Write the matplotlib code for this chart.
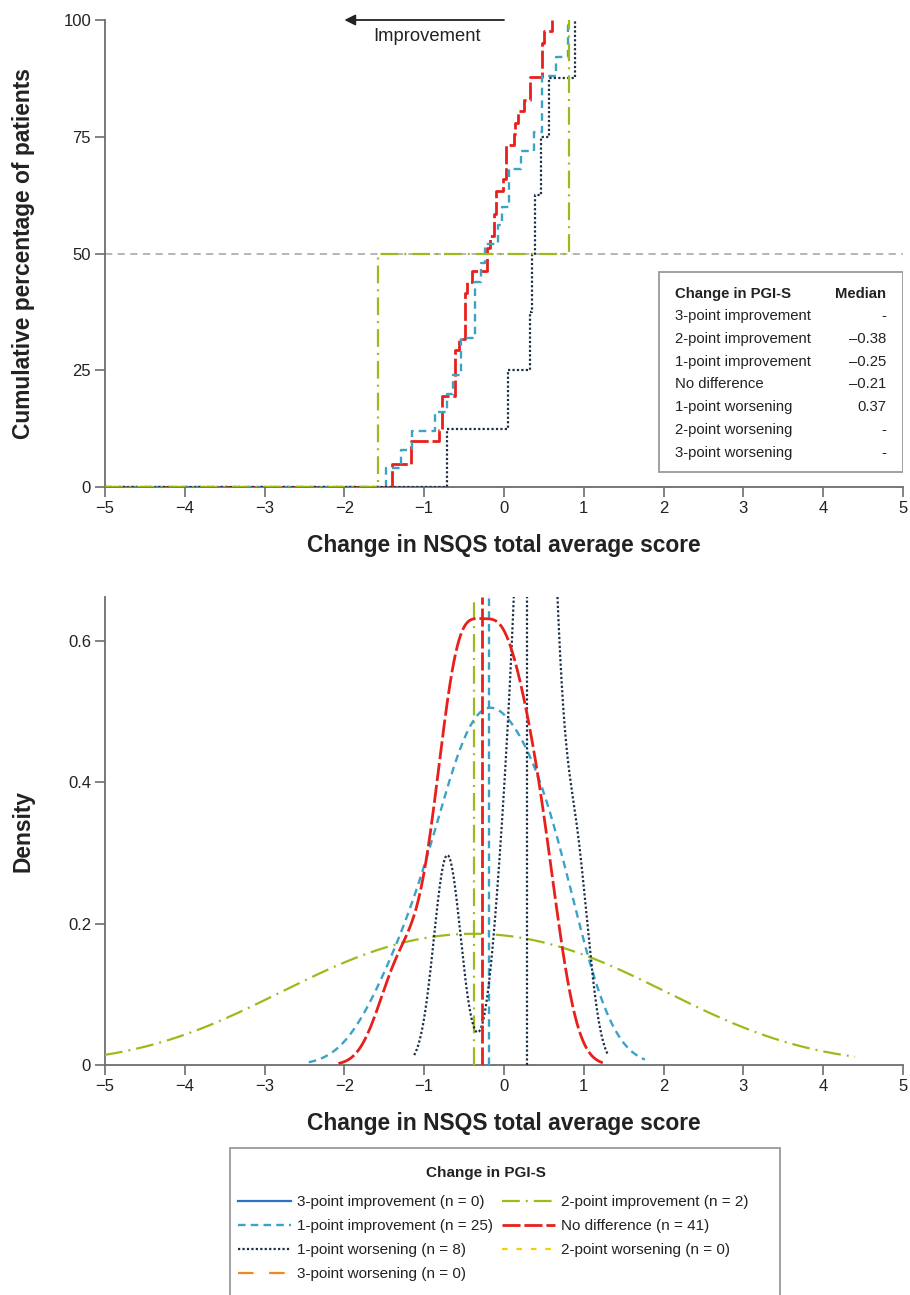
import numpy as np
import matplotlib
matplotlib.use("Agg")
import matplotlib.pyplot as plt
from matplotlib.patches import Rectangle

plt.rcParams['font.family'] = ['Liberation Sans', 'DejaVu Sans']

# ---------------- data ----------------
groups = ["3-point improvement", "2-point improvement", "1-point improvement",
          "No difference", "1-point worsening", "2-point worsening", "3-point worsening"]

# change in NSQS total average score, per PGI-S group
vals_3imp = []
vals_2imp = [-1.58, 0.82]
vals_1imp = [-1.48, -1.29, -1.15, -0.87, -0.71, -0.64, -0.54, -0.54, -0.36, -0.36,
             -0.36, -0.29, -0.24, -0.08, -0.02, 0.06, 0.06, 0.21, 0.37, 0.47,
             0.47, 0.47, 0.65, 0.80, 0.80]
vals_nodiff = [-1.40, -1.40, -1.17, -1.17, -0.82, -0.78, -0.78, -0.78, -0.61, -0.61,
               -0.61, -0.61, -0.56, -0.49, -0.49, -0.49, -0.49, -0.46, -0.40, -0.21,
               -0.21, -0.18, -0.13, -0.13, -0.10, -0.10, -0.01, 0.02, 0.02, 0.02,
               0.12, 0.14, 0.18, 0.25, 0.33, 0.33, 0.47, 0.47, 0.47, 0.50, 0.60]
vals_1wor = [-0.71, 0.05, 0.33, 0.35, 0.39, 0.46, 0.56, 0.89]
vals_2wor = []
vals_3wor = []

table_medians = ["-", "\u20130.38", "\u20130.25", "\u20130.21", "0.37", "-", "-"]

# kernel density settings (bandwidth, evaluation extension in bandwidths)
kde_bw = {"2-point improvement": 1.65, "1-point improvement": 0.42,
          "No difference": 0.25, "1-point worsening": 0.168}
kde_cut = {"2-point improvement": 2.17, "1-point improvement": 2.3,
           "No difference": 2.7, "1-point worsening": 2.47}

xticks = [-5, -4, -3, -2, -1, 0, 1, 2, 3, 4, 5]
yticks_top = [0, 25, 50, 75, 100]
yticks_bot = [0, 0.2, 0.4, 0.6]

data = {
    "3-point improvement": vals_3imp,
    "2-point improvement": vals_2imp,
    "1-point improvement": vals_1imp,
    "No difference": vals_nodiff,
    "1-point worsening": vals_1wor,
    "2-point worsening": vals_2wor,
    "3-point worsening": vals_3wor,
}

# ---------------- styles ----------------
styles = {
    "3-point improvement": dict(color="#2a72c0", ls="-", lw=1.6),
    "2-point improvement": dict(color="#9bbb1d", ls=(0, (8, 2.7, 0.9, 2.7)), lw=1.6),
    "1-point improvement": dict(color="#3aa3c6", ls=(0, (3.2, 2.2)), lw=1.7),
    "No difference": dict(color="#e8201c", ls=(0, (6.5, 1.4)), lw=2.0),
    "1-point worsening": dict(color="#1d2f47", ls=(0, (1, 1)), lw=1.6),
    "2-point worsening": dict(color="#f5d000", ls=(0, (2.5, 4)), lw=1.6),
    "3-point worsening": dict(color="#f0891a", ls=(0, (7, 7)), lw=1.6),
}

spine_col = "#6d6d6d"
txt_col = "#222222"
label_fs = 16.4

fig = plt.figure(figsize=(9.10, 12.95), dpi=100)
ax1 = fig.add_axes([105/910, 1-487/1295, 798/910, 467/1295])
ax2 = fig.add_axes([105/910, 1-1065/1295, 798/910, 468/1295])

def style_axes(ax):
    for s in ["top", "right"]:
        ax.spines[s].set_visible(False)
    for s in ["left", "bottom"]:
        ax.spines[s].set_color(spine_col)
        ax.spines[s].set_linewidth(1.3)
    ax.tick_params(axis="both", direction="out", length=7, width=1.2,
                   color=spine_col, labelsize=12, labelcolor=txt_col, pad=3)

# ---------------- top: cumulative ----------------
ax1.axhline(50, color="#b0b0b0", lw=1.3, ls=(0, (4, 3)), zorder=1)
order_top = ["No difference", "1-point improvement", "1-point worsening", "2-point improvement"]
for g in order_top:
    v = np.sort(np.array(data[g]))
    n = len(v)
    xs = np.concatenate([[-5], v])
    ys = np.concatenate([[0], 100 * np.arange(1, n + 1) / n])
    st = styles[g]
    ax1.step(xs, ys, where="post", color=st["color"], ls=st["ls"], lw=st["lw"], zorder=3)

ax1.set_xlim(-5, 5)
ax1.set_ylim(0, 100)
ax1.set_xticks(xticks)
ax1.set_yticks(yticks_top)
style_axes(ax1)
ax1.set_xlabel("Change in NSQS total average score", fontsize=label_fs, fontweight="bold",
               labelpad=13, color=txt_col)
ax1.set_ylabel("Cumulative percentage of patients", fontsize=label_fs, fontweight="bold",
               color=txt_col)
ax1.yaxis.set_label_coords((35-105)/798, 0.5)

ax1.annotate("", xy=(-2.0, 100), xytext=(0, 100), xycoords="data",
             arrowprops=dict(arrowstyle="-|>", color=txt_col, lw=1.3,
                             mutation_scale=16, shrinkA=0, shrinkB=0),
             annotation_clip=False)
ax1.text(-0.97, 96.5, "Improvement", ha="center", va="center", fontsize=13.2, color=txt_col)

# inset table
bx0 = (659-105)/798
by0 = (487-472)/467
ax1.add_patch(Rectangle((bx0, by0), 1-bx0, (472-272)/467, transform=ax1.transAxes,
                        fill=True, facecolor="white", edgecolor="#9a9a9a", lw=1.3, zorder=5))
def ty(py):
    return (487-py)/467
lx = (675-105)/798
rx = (886-105)/798
ax1.text(lx, ty(294), "Change in PGI-S", transform=ax1.transAxes, fontsize=10.7,
         fontweight="bold", va="center", ha="left", zorder=6, color=txt_col)
ax1.text(rx, ty(294), "Median", transform=ax1.transAxes, fontsize=10.7,
         fontweight="bold", va="center", ha="right", zorder=6, color=txt_col)
for i, (g, m) in enumerate(zip(groups, table_medians)):
    yy = ty(316 + i * 22.8)
    ax1.text(lx, yy, g, transform=ax1.transAxes, fontsize=10.7, va="center", ha="left",
             zorder=6, color=txt_col)
    ax1.text(rx, yy, m, transform=ax1.transAxes, fontsize=10.7, va="center", ha="right",
             zorder=6, color=txt_col)

# ---------------- bottom: density ----------------
def kde(v, h, grid):
    v = np.asarray(v)[:, None]
    z = (grid[None, :] - v) / h
    return np.exp(-0.5 * z**2).sum(axis=0) / (len(v) * h * np.sqrt(2 * np.pi))

order_bot = ["2-point improvement", "1-point improvement", "1-point worsening", "No difference"]
for g in order_bot:
    v = np.array(data[g])
    h = kde_bw[g]
    c = kde_cut[g]
    grid = np.linspace(max(v.min() - c * h, -5), v.max() + c * h, 600)
    st = styles[g]
    ax2.plot(grid, kde(v, h, grid), color=st["color"], ls=st["ls"], lw=st["lw"], zorder=3)
    ax2.axvline(v.mean(), color=st["color"], ls=st["ls"], lw=st["lw"], zorder=3)

handles = {}
for g in groups:
    st = styles[g]
    ln, = ax2.plot([], [], color=st["color"], ls=st["ls"], lw=st["lw"])
    handles[g] = ln

ax2.set_xlim(-5, 5)
ax2.set_ylim(0, 0.662)
ax2.set_xticks(xticks)
ax2.set_yticks(yticks_bot)
ax2.set_yticklabels(["0", "0.2", "0.4", "0.6"])
style_axes(ax2)
ax2.set_xlabel("Change in NSQS total average score", fontsize=label_fs, fontweight="bold",
               labelpad=13, color=txt_col)
ax2.set_ylabel("Density", fontsize=label_fs, fontweight="bold", color=txt_col)
ax2.yaxis.set_label_coords((35-105)/798, 0.5)

counts = {g: len(data[g]) for g in groups}
leg_order = ["3-point improvement", "1-point improvement", "1-point worsening", "3-point worsening",
             "2-point improvement", "No difference", "2-point worsening"]
leg = fig.legend([handles[g] for g in leg_order],
                 [f"{g} (n = {counts[g]})" for g in leg_order],
                 loc="upper left", bbox_to_anchor=(238/910, 1-1195/1295), ncol=2,
                 fontsize=11, frameon=False, handlelength=3.5, handletextpad=0.35,
                 columnspacing=0.6, labelspacing=0.66, borderpad=0.0, borderaxespad=0.0)
for t in leg.get_texts():
    t.set_color(txt_col)
fig.text(486/910, 1-1173/1295, "Change in PGI-S", ha="center", va="center",
         fontsize=11, fontweight="bold", color=txt_col)
fig.patches.append(Rectangle((230/910, -0.01), 550/910, 0.01 + 1 - 1148/1295,
                             transform=fig.transFigure, fill=False,
                             edgecolor="#9a9a9a", lw=1.3))

fig.savefig("out.png", dpi=100)
